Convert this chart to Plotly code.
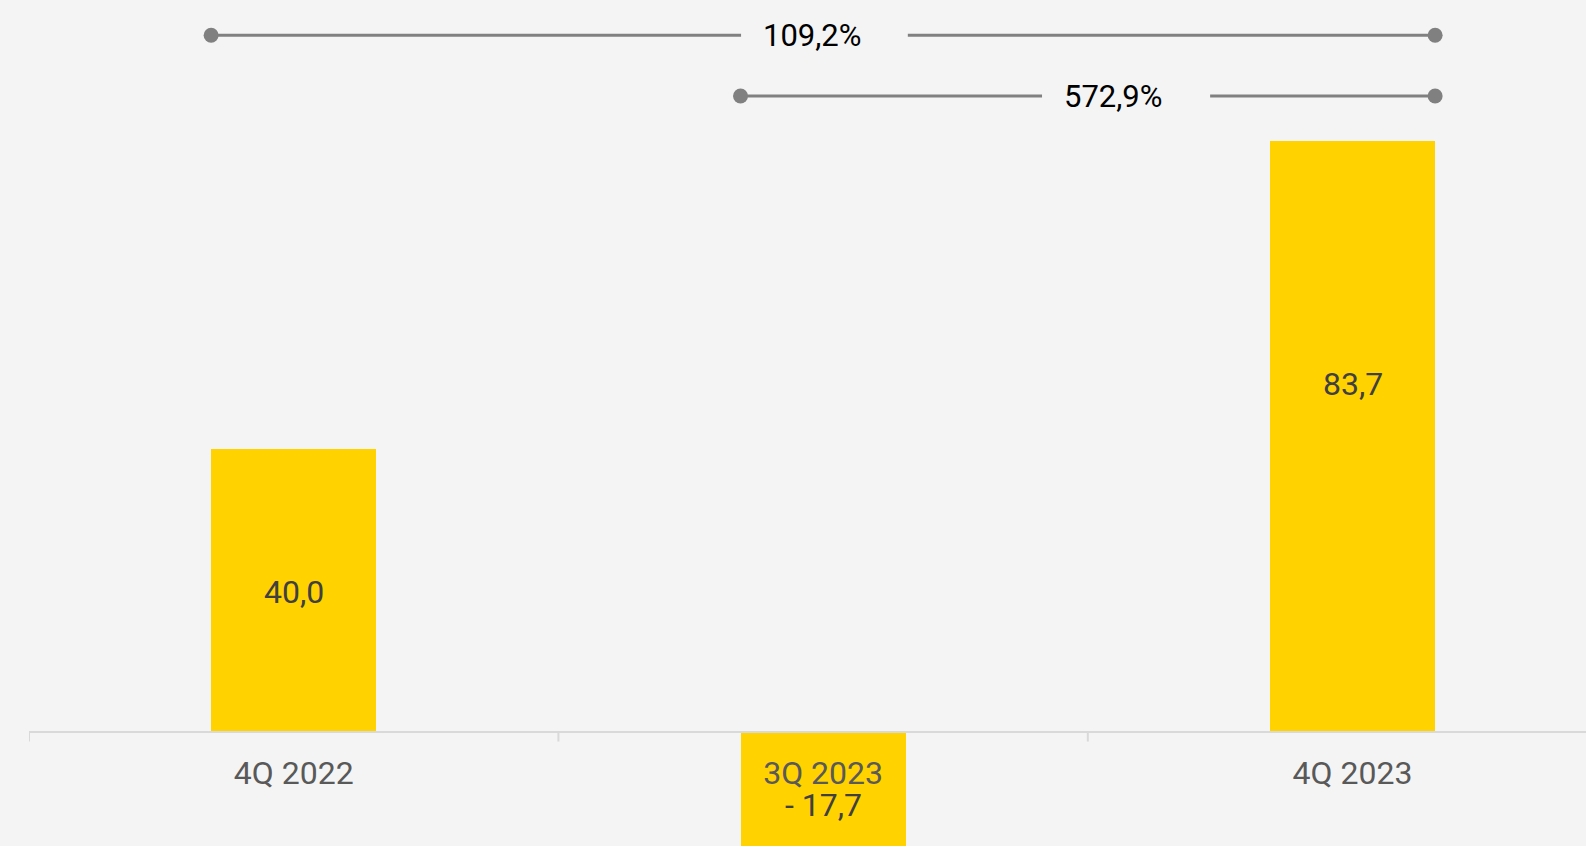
import plotly.graph_objects as go

# ---- data ----
categories = ["4Q 2022", "3Q 2023", "4Q 2023"]
values = [40.0, -17.7, 83.7]
value_labels = ["40,0", "- 17,7", "83,7"]
change_labels = ["109,2%", "572,9%"]
change_from = [0, 1]   # index of start bar
change_to = [2, 2]     # index of end bar

# ---- layout / style ----
BG = "#f4f4f4"
YELLOW = "#FFD200"
GREY = "#808080"
AXIS = "#d9d9d9"
FONT = "Roboto"
bar_width = 0.312
axis_pos = 0.1353
label_y = [19.8, -10.4, 49.2]          # vertical placement of value labels
bracket_y = [98.6, 90.0]               # vertical level of each bracket
bracket_text_x = [0.979, 1.5476]       # centre of bracket text
bracket_gap = [(0.845, 1.160), (1.4135, 1.731)]

fig = go.Figure()
fig.add_trace(go.Bar(
    x=list(range(len(categories))), y=values, width=bar_width,
    marker=dict(color=YELLOW, line=dict(width=0)),
    hoverinfo="skip", showlegend=False,
))

for i, lab in enumerate(value_labels):
    fig.add_annotation(x=i, y=label_y[i], xref="x", yref="y", text=lab,
                       showarrow=False, font=dict(family=FONT, size=32, color="#404040"))

for k, lab in enumerate(change_labels):
    x0 = change_from[k] - bar_width / 2
    x1 = change_to[k] + bar_width / 2
    fig.add_trace(go.Scatter(
        x=[x0, x1], y=[bracket_y[k]] * 2, mode="lines+markers",
        line=dict(color=GREY, width=3), marker=dict(color=GREY, size=15),
        hoverinfo="skip", showlegend=False,
    ))
    g0, g1 = bracket_gap[k]
    fig.add_shape(type="rect", xref="x", yref="y", x0=g0, x1=g1,
                  y0=bracket_y[k] - 1.5, y1=bracket_y[k] + 1.5,
                  fillcolor=BG, line=dict(width=0), layer="above")
    fig.add_annotation(x=bracket_text_x[k], y=bracket_y[k], xref="x", yref="y",
                       text=lab, showarrow=False,
                       font=dict(family=FONT, size=31, color="#000000"))

# category boundary ticks
for b in range(len(categories)):
    fig.add_shape(type="line", xref="x", yref="paper", x0=b - 0.5, x1=b - 0.5,
                  ysizemode="pixel", yanchor=axis_pos, y0=0, y1=-10,
                  line=dict(color=AXIS, width=2), layer="above")

fig.update_layout(
    width=1586, height=846,
    margin=dict(l=29, r=0, t=0, b=0),
    paper_bgcolor=BG, plot_bgcolor=BG,
    bargap=0,
    xaxis=dict(
        tickmode="array", tickvals=list(range(len(categories))), ticktext=categories,
        range=[-0.5, 2.441], anchor="free", position=axis_pos,
        showline=True, linecolor=AXIS, linewidth=2,
        ticks="outside", ticklen=9, tickwidth=2, tickcolor="rgba(0,0,0,0)",
        ticklabelstandoff=4,
        tickfont=dict(family=FONT, size=32, color="#595959"),
        showgrid=False, zeroline=False, fixedrange=True,
    ),
    yaxis=dict(range=[-16.22, 103.6], visible=False, showgrid=False, zeroline=False,
               fixedrange=True),
)

fig.write_html("out.html", config={"displayModeBar": False},
               post_script="document.body.style.margin='0';document.body.style.overflow='hidden';")
